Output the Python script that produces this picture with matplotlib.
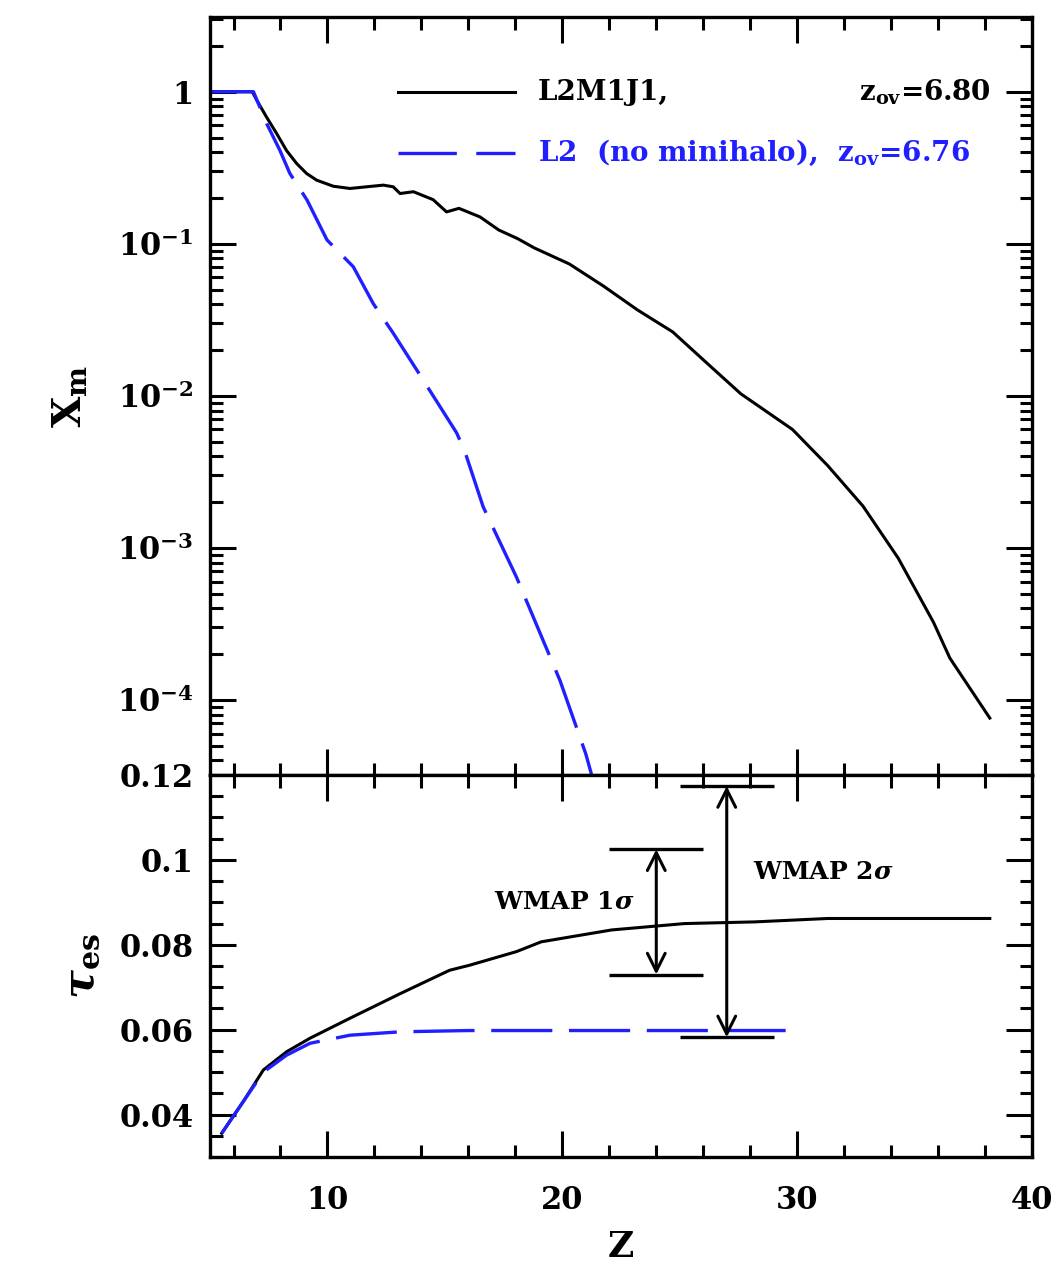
import numpy as np
import matplotlib
matplotlib.use("Agg")
from matplotlib import pyplot as plt
from matplotlib.ticker import FixedLocator, LogLocator, MultipleLocator, NullFormatter, FuncFormatter

# Ionized mass fraction vs redshift (top panel)
z_full = [5.0, 6.8, 6.99, 7.41, 7.84, 8.26, 8.69, 9.11, 9.54, 10.25, 10.96, 11.67,
          12.38, 12.8, 13.09, 13.66, 14.5, 15.07, 15.6, 16.5, 17.3, 18.1, 18.8, 20.3,
          21.75, 23.2, 24.7, 26.1, 27.6, 29.8, 31.3, 32.8, 34.3, 35.8, 36.5, 38.2]
xm_full = [1.0, 1.0, 0.88, 0.68, 0.53, 0.41, 0.337, 0.29, 0.262, 0.239, 0.231, 0.237,
           0.243, 0.237, 0.214, 0.22, 0.195, 0.162, 0.171, 0.150, 0.123, 0.108, 0.094, 0.0736,
           0.0527, 0.0367, 0.0263, 0.0167, 0.0103, 0.0060, 0.00347, 0.00188, 0.000855, 0.000324,
           0.000188, 0.0000758]

z_nomh = [5.0, 6.85, 7.41, 7.98, 8.4, 9.13, 9.98, 11.1, 11.95, 12.8, 13.8, 14.8,
          15.5, 15.85, 16.63, 18.05, 19.9, 21.0, 21.3]
xm_nomh = [1.0, 1.0, 0.618, 0.41, 0.29, 0.194, 0.106, 0.0706, 0.0404, 0.0258, 0.0148, 0.00845,
           0.0057, 0.0043, 0.00186, 0.00064, 0.000134, 0.000044, 0.00003]

# Electron scattering optical depth (bottom panel)
zt_full = [5.5, 6.42, 7.27, 8.26, 9.26, 10.96, 13.1, 15.2, 16.06, 18.05, 19.1, 22.1,
           25.2, 28.2, 31.3, 38.2]
tau_full = [0.0356, 0.0431, 0.0505, 0.0548, 0.058, 0.0627, 0.0685, 0.074, 0.0752, 0.0784, 0.0807, 0.0835,
            0.085, 0.0854, 0.0862, 0.0862]

zt_nomh = [5.5, 6.42, 7.27, 8.26, 9.26, 10.96, 13.1, 16.0, 30.0]
tau_nomh = [0.0356, 0.0431, 0.0500, 0.054, 0.0568, 0.0587, 0.0595, 0.0598, 0.0598]

# WMAP constraints
wmap_z = [24.0, 27.0]
wmap_lo = [0.073, 0.0582]
wmap_hi = [0.1025, 0.1174]
wmap_labels = [r"WMAP 1$\boldsymbol{\sigma}$", r"WMAP 2$\boldsymbol{\sigma}$"]

legend_names = ["L2M1J1,", "L2  (no minihalo),  "]
z_ov = [6.80, 6.76]

plt.rcParams["font.family"] = "DejaVu Serif"
plt.rcParams["font.weight"] = "bold"
plt.rcParams["axes.labelweight"] = "bold"
plt.rcParams["mathtext.fontset"] = "dejavuserif"
plt.rcParams["lines.scale_dashes"] = False

blue = "#1f1fff"
dash = (0, (44, 12))

fig = plt.figure(figsize=(10.58, 12.72), dpi=100)
ax1 = fig.add_axes([0.1985, 0.3907, 0.777, 0.5959])
ax2 = fig.add_axes([0.1985, 0.0904, 0.777, 0.3003])

# top panel
ax1.plot(z_full, xm_full, color="black", lw=2.2)
ax1.plot(z_nomh, xm_nomh, color=blue, lw=2.4, linestyle=dash)
ax1.set_yscale("log")
ax1.set_xlim(5, 40)
ax1.set_ylim(3.2e-5, 3.1)

ax1.yaxis.set_major_locator(FixedLocator([1e-4, 1e-3, 1e-2, 1e-1, 1]))
ax1.yaxis.set_minor_locator(LogLocator(base=10, subs=np.arange(2, 10)))
ax1.yaxis.set_minor_formatter(NullFormatter())


def log_label(v, pos):
    if abs(v - 1) < 1e-9:
        return "1"
    return r"$\mathbf{10^{%d}}$" % int(round(np.log10(v)))


ax1.yaxis.set_major_formatter(FuncFormatter(log_label))
ax1.set_ylabel(r"$\mathbf{X_m}$", fontsize=29, labelpad=20)

# legend keys drawn by hand
ax1.plot([0.2287, 0.371], [0.901, 0.901], color="black", lw=2.2, transform=ax1.transAxes)
ax1.plot([0.2287, 0.371], [0.8206, 0.8206], color=blue, lw=2.4, linestyle=(0, (42, 14)),
         transform=ax1.transAxes)
ax1.text(0.399, 0.901, legend_names[0], transform=ax1.transAxes, fontsize=20,
         va="center", ha="left", color="black")
ax1.text(0.949, 0.901, r"$\mathbf{z_{ov}}$=%.2f" % z_ov[0], transform=ax1.transAxes,
         fontsize=20, va="center", ha="right", color="black")
ax1.text(0.399, 0.8206, legend_names[1] + r"$\mathbf{z_{ov}}$=%.2f" % z_ov[1],
         transform=ax1.transAxes, fontsize=20, va="center", ha="left", color=blue)

# bottom panel
ax2.plot(zt_full, tau_full, color="black", lw=2.2)
ax2.plot(zt_nomh, tau_nomh, color=blue, lw=2.4, linestyle=dash)
ax2.set_xlim(5, 40)
ax2.set_ylim(0.03, 0.12)
ax2.yaxis.set_major_locator(MultipleLocator(0.02))
ax2.yaxis.set_minor_locator(MultipleLocator(0.005))
ax2.yaxis.set_major_formatter(FuncFormatter(lambda v, p: "{:g}".format(round(v, 3))))
ax2.set_ylabel(r"$\boldsymbol{\tau}_{\mathbf{es}}$", fontsize=31, labelpad=12)
ax2.set_xlabel("Z", fontsize=26, labelpad=10)

for zc, lo, hi in zip(wmap_z, wmap_lo, wmap_hi):
    ax2.hlines([lo, hi], zc - 2, zc + 2, color="black", lw=2.4)
    ax2.annotate("", xy=(zc, hi), xytext=(zc, lo),
                 arrowprops=dict(arrowstyle="<->", lw=2.2, color="black",
                                 shrinkA=0, shrinkB=0, mutation_scale=32))
ax2.text(23.1, 0.0901, wmap_labels[0], fontsize=18, ha="right", va="center")
ax2.text(28.1, 0.0972, wmap_labels[1], fontsize=18, ha="left", va="center")

for ax in (ax1, ax2):
    ax.xaxis.set_major_locator(MultipleLocator(10))
    ax.xaxis.set_minor_locator(MultipleLocator(2))
    ax.tick_params(which="both", direction="in", top=True, right=True, width=2.2,
                   labelsize=22)
    ax.tick_params(which="major", length=19)
    ax.tick_params(which="minor", length=9)
    ax.tick_params(axis="y", pad=12)
    ax.tick_params(axis="x", pad=20)
    for s in ax.spines.values():
        s.set_linewidth(2.4)

ax1.tick_params(labelbottom=False)
ax2.set_xticks([10, 20, 30, 40])

fig.savefig("out.png", dpi=100)
